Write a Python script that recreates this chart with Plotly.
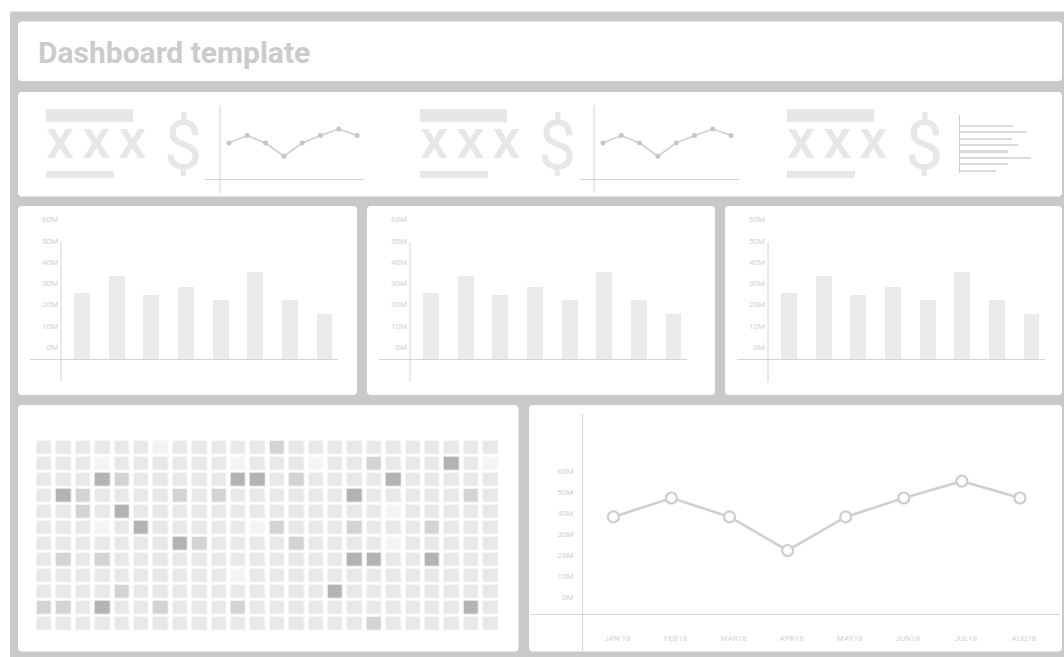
import plotly.graph_objects as go

W, H = 1064, 657

# ---- data -------------------------------------------------------------
months = ["JAN 18", "FEB18", "MAR18", "APR18", "MAY18", "JUN18", "JUL18", "AUG18"]
bar_values = [31, 39, 30, 34, 28, 41, 28, 21]      # millions
line_values = [38, 47, 38, 22, 38, 47, 55, 47]     # millions
y_tick_vals = [0, 10, 20, 30, 40, 50, 60]
y_tick_text = ["0M", "10M", "20M", "30M", "40M", "50M", "60M"]
kpi_value_text = "xxx"
kpi_currency = "$"
title_text = "Dashboard template"

# heat grid: 1 = faint, 2 = normal, 3 = medium, 4 = strong
heat = [
    [2,2,2,2,2,2,1,2,2,2,2,2,3,2,2,2,2,2,2,2,2,2,2,2],
    [2,2,2,1,2,2,2,2,2,2,1,2,2,2,1,2,2,3,2,2,2,4,2,1],
    [2,2,2,4,3,2,2,2,2,2,4,4,2,3,2,2,2,2,4,2,2,2,2,2],
    [2,4,3,2,2,2,2,3,2,3,2,2,2,2,2,2,4,2,2,2,2,2,3,2],
    [2,2,3,2,4,2,2,2,2,2,2,2,2,2,2,2,2,2,1,2,2,2,2,2],
    [2,2,2,1,2,4,2,2,2,2,2,1,3,2,2,2,3,2,2,2,3,2,2,2],
    [2,2,2,2,2,2,2,4,3,2,2,2,2,3,2,2,2,2,1,2,2,2,2,2],
    [2,3,2,3,2,2,2,2,2,2,2,2,2,2,2,2,4,4,2,2,4,2,2,2],
    [2,2,2,2,2,2,2,2,2,2,1,2,2,2,2,2,2,2,2,2,2,2,2,2],
    [2,2,2,2,3,2,2,2,2,2,2,2,2,2,2,4,2,2,2,2,2,2,2,2],
    [3,3,2,4,2,2,3,2,2,2,3,2,2,2,2,2,2,2,2,2,2,2,4,2],
    [2,2,2,2,2,2,2,2,2,2,2,2,2,2,2,2,2,3,2,2,2,2,2,2],
]

# ---- styling ----------------------------------------------------------
FONT = "Roboto"
BG_GRAY = "#c9c9c9"
CARD = "#ffffff"
AXIS = "#d4d4d4"
TICK = "#d2d2d2"
BAR = "#ebebeb"
PLACEHOLDER = "#e7e7e7"


def px(x):
    return x / W


def py(y):
    return 1 - y / H


def rounded(x0, y0, x1, y1, r=4):
    """SVG path of a rounded rectangle, pixel coords -> paper coords."""
    rx, ry = r / W, r / H
    a, b, c, d = px(x0), py(y1), px(x1), py(y0)   # left, bottom, right, top
    return (f"M{a+rx},{d} L{c-rx},{d} Q{c},{d} {c},{d-ry} "
            f"L{c},{b+ry} Q{c},{b} {c-rx},{b} L{a+rx},{b} "
            f"Q{a},{b} {a},{b+ry} L{a},{d-ry} Q{a},{d} {a+rx},{d} Z")


fig = go.Figure()
shapes = []
annotations = []
layout_axes = {}

# page background and cards
shapes.append(dict(type="rect", xref="paper", yref="paper", layer="below",
                   x0=px(10), x1=1, y0=0, y1=py(11.5),
                   fillcolor=BG_GRAY, line=dict(width=0)))
cards = [
    (18, 21.5, 1062, 81),
    (18, 92, 1062, 196.5),
    (18, 206, 357, 395),
    (367, 206, 715, 395),
    (725, 206, 1062, 395),
    (18, 405, 518.5, 651.5),
    (529, 405, 1062, 651.5),
]
for c in cards:
    shapes.append(dict(type="path", xref="paper", yref="paper", layer="below",
                       path=rounded(*c), fillcolor=CARD, line=dict(width=0)))


def vline(x, y0, y1, color=AXIS, width=1):
    shapes.append(dict(type="line", xref="paper", yref="paper",
                       x0=px(x), x1=px(x), y0=py(y0), y1=py(y1),
                       line=dict(color=color, width=width)))


hidden = dict(showgrid=False, zeroline=False, showticklabels=False,
              showline=False, ticks="")

# ---- title ------------------------------------------------------------
annotations.append(dict(xref="paper", yref="paper", x=px(36), y=py(52),
                        xanchor="left", yanchor="middle", showarrow=False,
                        text=f"<b>{title_text}</b>",
                        font=dict(family=FONT, size=30, color="#cbcbcb")))

# ---- KPI row ----------------------------------------------------------
for o in (0, 374, 741):
    shapes.append(dict(type="rect", xref="paper", yref="paper",
                       x0=px(46 + o), x1=px(133 + o), y0=py(122), y1=py(109),
                       fillcolor=PLACEHOLDER, line=dict(width=0), layer="below"))
    shapes.append(dict(type="rect", xref="paper", yref="paper",
                       x0=px(46 + o), x1=px(114 + o), y0=py(178), y1=py(171),
                       fillcolor=PLACEHOLDER, line=dict(width=0), layer="below"))
    annotations.append(dict(xref="paper", yref="paper", x=px(44 + o), y=py(139),
                            xanchor="left", yanchor="middle", showarrow=False,
                            text=f'<span style="letter-spacing:8px">{kpi_value_text}</span>',
                            font=dict(family=FONT, size=56, weight=500, color=PLACEHOLDER)))
    annotations.append(dict(xref="paper", yref="paper", x=px(162 + o), y=py(146),
                            xanchor="left", yanchor="middle", showarrow=False,
                            text=kpi_currency,
                            font=dict(family=FONT, size=68, color=PLACEHOLDER)))

# sparkline panels
for k, o in enumerate((0, 374)):
    ax = k + 1
    xa = "x" if ax == 1 else f"x{ax}"
    ya = "y" if ax == 1 else f"y{ax}"
    fig.add_trace(go.Scatter(x=months, y=line_values, mode="lines+markers",
                             xaxis=xa, yaxis=ya, hoverinfo="skip",
                             line=dict(color="#cfcfcf", width=1.6),
                             marker=dict(color="#c6c6c6", size=5)))
    layout_axes[f"xaxis{'' if ax == 1 else ax}"] = dict(
        domain=[px(205 + o), px(365 + o)], range=[-1.311, 7.432], anchor=ya,
        type="category", showgrid=False, zeroline=False, showticklabels=False,
        showline=True, linecolor=AXIS, linewidth=1, ticks="")
    layout_axes[f"yaxis{'' if ax == 1 else ax}"] = dict(
        domain=[py(179), py(105)], range=[-5.7, 84.1], anchor=xa, **hidden)
    vline(220 + o, 105, 193)

# horizontal mini bar list
fig.add_trace(go.Bar(x=bar_values, y=months, orientation="h", xaxis="x3", yaxis="y3",
                     width=0.26, marker=dict(color="#dadada", line=dict(width=0)),
                     hoverinfo="skip"))
layout_axes["xaxis3"] = dict(domain=[px(960), px(1040)], range=[0, 46.5], anchor="y3", **hidden)
layout_axes["yaxis3"] = dict(domain=[py(173), py(115)], range=[7.31, -1.71], anchor="x3",
                             type="category", showgrid=False, zeroline=False,
                             showticklabels=False, ticks="",
                             showline=True, linecolor="#cdcdcd", linewidth=1)

# ---- bar chart cards ---------------------------------------------------
for k, o in enumerate((0, 349, 707)):
    ax = 4 + k
    fig.add_trace(go.Bar(x=months, y=bar_values, xaxis=f"x{ax}", yaxis=f"y{ax}",
                         width=0.46, marker=dict(color=BAR, line=dict(width=0)),
                         hoverinfo="skip"))
    layout_axes[f"xaxis{ax}"] = dict(domain=[px(30 + o), px(338 + o)],
                                     range=[-1.501, 7.39], anchor=f"y{ax}",
                                     type="category", **hidden)
    layout_axes[f"yaxis{ax}"] = dict(
        domain=[py(382), py(214)], range=[-10.82, 68.24],
        anchor="free", position=px(61 + o), side="left",
        tickmode="array", tickvals=y_tick_vals, ticktext=y_tick_text,
        ticks="", ticklabelshift=-12, ticklabelstandoff=3,
        tickfont=dict(family=FONT, size=8, color=TICK),
        showgrid=False, showline=False,
        zeroline=True, zerolinecolor=AXIS, zerolinewidth=1)
    vline(61 + o, 242, 382)

# ---- heat grid ----------------------------------------------------------
fig.add_trace(go.Heatmap(z=heat, xaxis="x7", yaxis="y7", zmin=1, zmax=4,
                         colorscale=[[0, "#f4f4f4"], [1 / 3, "#e8e8e8"],
                                     [2 / 3, "#d3d3d3"], [1, "#b3b3b3"]],
                         xgap=4.7, ygap=2.7, showscale=False, hoverinfo="skip"))
layout_axes["xaxis7"] = dict(domain=[px(34.6), px(500.2)], range=[-0.5, 23.5],
                             anchor="y7", **hidden)
layout_axes["yaxis7"] = dict(domain=[py(631.6), py(439.6)], range=[11.5, -0.5],
                             anchor="x7", **hidden)

# ---- line chart card -------------------------------------------------
fig.add_trace(go.Scatter(x=months, y=line_values, mode="lines+markers",
                         xaxis="x8", yaxis="y8", hoverinfo="skip",
                         line=dict(color="#d0d0d0", width=2.6),
                         marker=dict(color="#ffffff", size=11,
                                     line=dict(color="#cdcdcd", width=2.2))))
layout_axes["xaxis8"] = dict(
    domain=[px(530), px(1060)], range=[-1.436, 7.690], anchor="y8",
    type="category", showgrid=False, zeroline=False,
    showline=True, linecolor=AXIS, linewidth=1, ticks="",
    ticklabelshift=4, ticklabelstandoff=16,
    tickfont=dict(family=FONT, size=8, color=TICK))
layout_axes["yaxis8"] = dict(
    domain=[py(614), py(414)], range=[-8.24, 87.0],
    anchor="free", position=px(582.5), side="left",
    tickmode="array", tickvals=y_tick_vals, ticktext=y_tick_text,
    ticks="", ticklabelstandoff=9,
    tickfont=dict(family=FONT, size=8, color=TICK),
    showgrid=False, showline=False, zeroline=False)
vline(582.5, 414, 651)

fig.update_layout(
    width=W, height=H, margin=dict(l=0, r=0, t=0, b=0),
    paper_bgcolor="#ffffff", plot_bgcolor="rgba(0,0,0,0)",
    showlegend=False, bargap=0,
    shapes=shapes, annotations=annotations,
    font=dict(family=FONT),
    **layout_axes,
)

fig.write_html("out.html", config={"displayModeBar": False})
